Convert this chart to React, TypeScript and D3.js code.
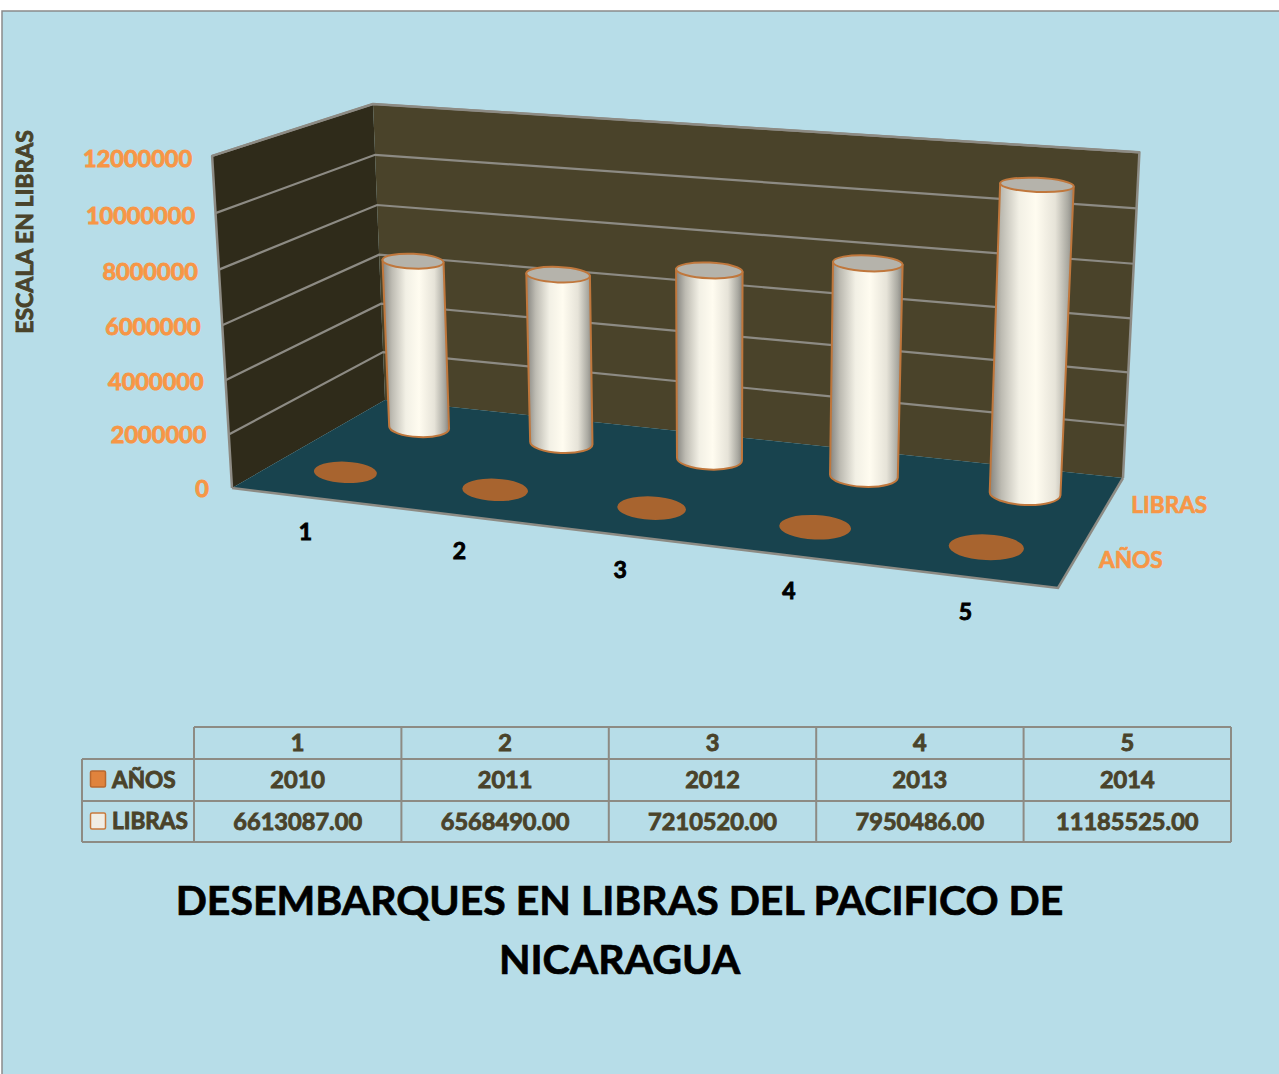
import React from "react";
import * as d3 from "d3";

const categories = ["1", "2", "3", "4", "5"];
const years = [2010, 2011, 2012, 2013, 2014];
const pounds = [6613087, 6568490, 7210520, 7950486, 11185525];
const seriesNames = ["LIBRAS", "AÑOS"];
const yMax = 12000000;
const chartTitle = ["DESEMBARQUES EN LIBRAS DEL PACIFICO DE", "NICARAGUA"];
const axisTitle = "ESCALA EN LIBRAS";

const FONT = "Lato, Carlito, sans-serif";
const ORANGE = "#f79646";
const DARK = "#4a432a";
const GRID = "#8d8b84";
const EDGE = "#c0773c";

// floor corners on screen, then the top of the back left edge; the rest follows from a projective map
const floor = { x0: 385, y0: 400, x1: 1123, y1: 478, x2: 1058, y2: 588, x3: 232, y3: 488 };
const k3 = -0.035;

const makeProjection = () => {
  const { x0, y0, x1, y1, x2, y2, x3, y3 } = floor;
  const sx = x0 - x1 + x2 - x3;
  const sy = y0 - y1 + y2 - y3;
  const det = (x1 - x2) * (y3 - y2) - (x3 - x2) * (y1 - y2);
  const g = (sx * (y3 - y2) - (x3 - x2) * sy) / det;
  const h = ((x1 - x2) * sy - sx * (y1 - y2)) / det;
  const a = x1 - x0 + g * x1;
  const b = x3 - x0 + h * x3;
  const d = y1 - y0 + g * y1;
  const e = y3 - y0 + h * y3;
  const k1 = 373 * (1 + k3) - x0;
  const k2 = 104 * (1 + k3) - y0;
  return (u: number, v: number, t: number): [number, number] => {
    const w = g * u + h * v + 1 + k3 * t;
    return [(a * u + b * v + x0 + k1 * t) / w, (d * u + e * v + y0 + k2 * t) / w];
  };
};
const project = makeProjection();

const xBand = d3.scaleBand<string>().domain(categories).range([0, 1]);
const depth = d3.scalePoint<string>().domain(seriesNames).range([0.25, 0.75]);
const yScale = d3.scaleLinear().domain([0, yMax]).range([0, 1]);
const ticks = yScale.ticks(6);
const uOf = (c: string) => xBand(c)! + xBand.bandwidth() / 2;

const poly = d3.line().curve(d3.curveLinearClosed);

const ruU = 0.043;
const ruV = 0.112;
const tilt = 2.5;
const disc = (u: number, v: number, t: number) => {
  const [cx, cy] = project(u, v, t);
  const rx = (project(u + ruU, v, t)[0] - project(u - ruU, v, t)[0]) / 2;
  const ry = (project(u, v + ruV, t)[1] - project(u, v - ruV, t)[1]) / 2;
  const a = (tilt * Math.PI) / 180;
  return {
    cx,
    cy,
    rx,
    ry,
    left: [cx - rx * Math.cos(a), cy - rx * Math.sin(a)],
    right: [cx + rx * Math.cos(a), cy + rx * Math.sin(a)],
  };
};

const tableCols = d3.scaleBand<string>().domain(categories).range([194, 1231]);
const tableRows = [727, 759, 801, 842];
const tableLeft = 82;

const outlined = (fill: string, width: number) => ({
  fill,
  stroke: fill,
  strokeWidth: width,
  fontFamily: FONT,
  fontWeight: 700,
});

export default function App() {
  const corner = (u: number, v: number, t: number) => project(u, v, t);
  const leftWall = [corner(0, 1, 0), corner(0, 0, 0), corner(0, 0, 1), corner(0, 1, 1)];
  const backWall = [corner(0, 0, 0), corner(1, 0, 0), corner(1, 0, 1), corner(0, 0, 1)];
  const floorQuad = [corner(0, 0, 0), corner(1, 0, 0), corner(1, 1, 0), corner(0, 1, 0)];

  return (
    <svg
      width={1279}
      height={1074}
      style={{ position: "absolute", left: 0, top: 0, background: "#fff" }}
    >
      <defs>
        <linearGradient id="cyl" x1="0" x2="1" y1="0" y2="0">
          <stop offset="0" stopColor="#85847f" />
          <stop offset="0.14" stopColor="#bdbbb2" />
          <stop offset="0.35" stopColor="#f2f0e5" />
          <stop offset="0.55" stopColor="#fffcf0" />
          <stop offset="0.78" stopColor="#e6e3d8" />
          <stop offset="0.93" stopColor="#aaa9a1" />
          <stop offset="1" stopColor="#85847f" />
        </linearGradient>
      </defs>
      <rect x={2} y={11} width={1300} height={1100} fill="#b7dde8" stroke="#8a8a8a" strokeWidth={1.5} />

      <path d={poly(leftWall as any)!} fill="#2f2b1a" stroke="none" />
      <path d={poly(backWall as any)!} fill={DARK} stroke="none" />
      <path
        d={d3.line()([corner(0, 1, 0), corner(0, 1, 1), corner(0, 0, 1), corner(1, 0, 1), corner(1, 0, 0)])!}
        fill="none"
        stroke={GRID}
        strokeWidth={2.5}
        strokeLinejoin="round"
      />
      {ticks.filter((t) => t > 0).map((t) => {
        const h = yScale(t);
        return (
          <path
            key={t}
            d={d3.line()([corner(0, 1, h), corner(0, 0, h), corner(1, 0, h)])!}
            fill="none"
            stroke={GRID}
            strokeWidth={2.2}
          />
        );
      })}
      <path d={poly(floorQuad as any)!} fill="#18434e" stroke="none" />
      <path
        d={d3.line()([corner(0, 1, 0), corner(1, 1, 0), corner(1, 0, 0)])!}
        fill="none"
        stroke={GRID}
        strokeWidth={2.5}
      />

      {categories.map((c, i) => {
        const b = disc(uOf(c), depth("AÑOS")!, 0);
        return (
          <ellipse
            key={years[i]}
            cx={b.cx - 1}
            cy={b.cy}
            rx={b.rx}
            ry={b.ry}
            transform={`rotate(${tilt} ${b.cx} ${b.cy})`}
            fill="#a8642f"
          />
        );
      })}

      {categories.map((c, i) => {
        const u = uOf(c);
        const v = depth("LIBRAS")!;
        const base = disc(u, v, 0);
        const top = disc(u, v, yScale(pounds[i]));
        const body = `M${top.left} L${base.left} A${base.rx} ${base.ry} ${tilt} 0 0 ${base.right} L${top.right} Z`;
        return (
          <g key={c}>
            <path d={body} fill="url(#cyl)" stroke={EDGE} strokeWidth={2} strokeLinejoin="round" />
            <ellipse
              cx={top.cx}
              cy={top.cy}
              rx={top.rx}
              ry={top.ry}
              transform={`rotate(${tilt} ${top.cx} ${top.cy})`}
              fill="#b5b3ab"
              stroke={EDGE}
              strokeWidth={2}
            />
          </g>
        );
      })}

      {ticks.map((t) => {
        const h = yScale(t);
        const [x, y] = corner(0, 1, h);
        return (
          <text key={t} x={x - 23 + 3 * h} y={y + 8.5 + 2.5 * h} textAnchor="end" fontSize={23.5} {...outlined(ORANGE, 0.9)}>
            {t}
          </text>
        );
      })}

      {categories.map((c) => {
        const [x, y] = corner(uOf(c), 1, 0);
        return (
          <text key={c} x={x - 1} y={y + 43} textAnchor="middle" fontSize={23} fontFamily={FONT} fontWeight={700} fill="#000" stroke="#000" strokeWidth={0.9}>
            {c}
          </text>
        );
      })}

      {seriesNames.map((s) => {
        const [x, y] = corner(1, depth(s)!, 0);
        return (
          <text key={s} x={x + 23} y={y + 10} fontSize={22.6} {...outlined(ORANGE, 0.7)}>
            {s}
          </text>
        );
      })}

      <text
        transform="translate(33,232) rotate(-90)"
        textAnchor="middle"
        fontSize={23}
        {...outlined(DARK, 0.9)}
      >
        {axisTitle}
      </text>

      <g fill="none" stroke={GRID} strokeWidth={2}>
        <path d={d3.line()([[194, tableRows[0]], [1231, tableRows[0]]])!} />
        {tableRows.slice(1).map((y) => (
          <path key={y} d={d3.line()([[tableLeft, y], [1231, y]])!} />
        ))}
        <path d={d3.line()([[tableLeft, tableRows[1]], [tableLeft, tableRows[3]]])!} />
        {[...categories.map((c) => tableCols(c)!), 1231].map((x) => (
          <path key={x} d={d3.line()([[x, tableRows[0]], [x, tableRows[3]]])!} />
        ))}
      </g>

      <rect x={90.5} y={771} width={15} height={16} rx={1.5} fill="#e0833d" stroke="#b9682f" strokeWidth={1.5} />
      <rect x={90.5} y={813} width={15} height={16} rx={1.5} fill="#f0ede4" stroke="#c87a3c" strokeWidth={1.5} />
      <text x={112} y={788} fontSize={22.6} {...outlined(DARK, 0.9)}>AÑOS</text>
      <text x={112} y={829} fontSize={22.6} {...outlined(DARK, 0.9)}>LIBRAS</text>

      {categories.map((c, i) => {
        const x = tableCols(c)! + tableCols.bandwidth() / 2;
        return (
          <g key={c} textAnchor="middle" fontSize={23.6}>
            <text x={x} y={751} {...outlined(DARK, 0.9)}>{c}</text>
            <text x={x} y={788} {...outlined(DARK, 0.9)}>{years[i]}</text>
            <text x={x} y={830} {...outlined(DARK, 0.9)}>{pounds[i].toFixed(2)}</text>
          </g>
        );
      })}

      {chartTitle.map((line, i) => (
        <text key={line} x={619.5} y={915 + i * 59} textAnchor="middle" fontSize={41} fontFamily={FONT} fontWeight={700} fill="#000" stroke="#000" strokeWidth={0.7}>
          {line}
        </text>
      ))}
    </svg>
  );
}
